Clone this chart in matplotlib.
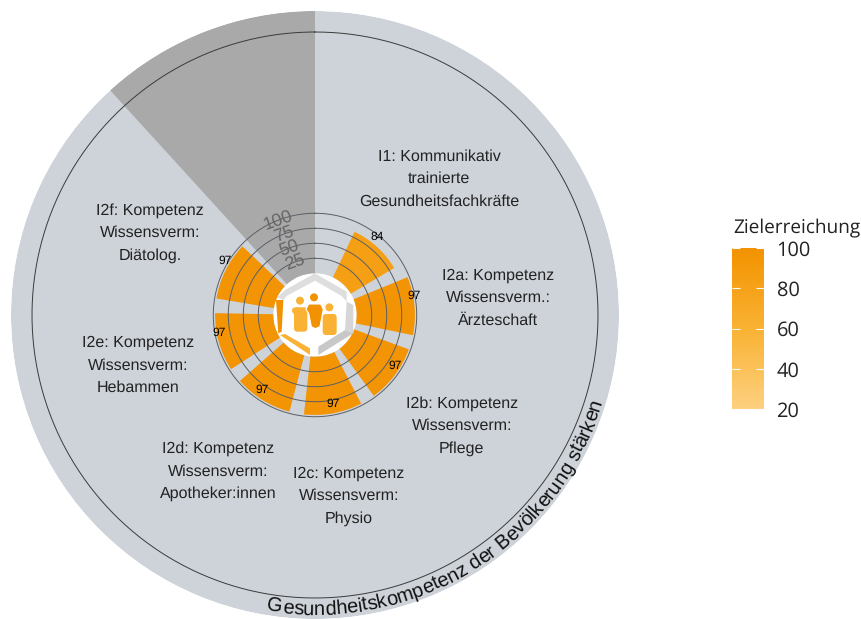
# -*- coding:utf-8 -*-
import numpy as np
from matplotlib import pyplot as plt
from matplotlib import cm, colors
from matplotlib.patches import Polygon, Circle, FancyBboxPatch

# Indikatoren
labels = ['I1: Kommunikativ\ntrainierte\nGesundheitsfachkräfte',
	'I2a: Kompetenz\nWissensverm.:\nÄrzteschaft',
	'I2b: Kompetenz\nWissensverm:\nPflege',
	'I2c: Kompetenz\nWissensverm:\nPhysio',
	'I2d: Kompetenz\nWissensverm:\nApotheker:innen',
	'I2e: Kompetenz\nWissensverm:\nHebammen',
	'I2f: Kompetenz\nWissensverm:\nDiätolog.']
values = [84, 97, 97, 97, 97, 97, 97]
r_ticks = [25, 50, 75, 100]
legend_ticks = [20, 40, 60, 80, 100]
legend_title = 'Zielerreichung'
ring_title = 'Gesundheitskompetenz der Bevölkerung stärken'

W, H = 861, 619
CX, CY, R = 315, 315, 304
R_MIN, R_MAX = -69.5, 437
N_SLOTS = 8.5
BG = '#CED3DA'
DARK = '#A9A9A9'

plt.rcParams['font.family'] = ['Liberation Sans', 'DejaVu Sans']
plt.rcParams['text.hinting'] = 'no_hinting'
plt.rcParams['text.hinting_factor'] = 1

fig = plt.figure(figsize=(W/100, H/100), dpi=100)
ax = fig.add_axes([(CX-R)/W, 1-(CY+R)/H, 2*R/W, 2*R/H], projection='polar')
ax.set_theta_zero_location('N')
ax.set_theta_direction(-1)
ax.set_ylim(R_MIN, R_MAX)
ax.axis('off')

cmap = colors.LinearSegmentedColormap.from_list('ziel', ['#FDD07F', '#F9B233', '#F39200'])
norm = colors.Normalize(20, 100)

def to_theta(x):
	return np.asarray(x)*2*np.pi/N_SLOTS

# Hintergrund und leeres Segment
ax.bar(0, R_MAX, width=2*np.pi, bottom=0, align='edge', color=BG, lw=0, zorder=1)
ax.bar(to_theta(7.5), R_MAX, width=to_theta(1), bottom=0, align='edge', color=DARK, lw=0, zorder=2)

# Balken
xs = np.arange(1, len(values)+1)
ax.bar(to_theta(xs), values, width=to_theta(0.8), bottom=0, color=cmap(norm(values)), lw=0, zorder=3)

# Ringe
tt = np.linspace(0, 2*np.pi, 400)
for r in r_ticks:
	ax.plot(tt, [r]*len(tt), color='#5A5F66', lw=0.7, zorder=6)
ax.plot(tt, [402]*len(tt), color='#3A3A3A', lw=0.7, zorder=6)

for r in r_ticks:
	ax.text(np.radians(-21), r, str(r), rotation=20, ha='center', va='center',
		fontsize=13, color='#666666', zorder=7)

for x, v in zip(xs, values):
	ax.annotate(str(v), (to_theta(x), v), xytext=(0, 7), textcoords='offset points',
		ha='center', va='center', fontsize=8.8, color='black', zorder=7)

for x, lab in zip(xs, labels):
	ax.text(to_theta(x), 237, lab, ha='center', va='center', fontsize=11.7, color='#222222',
		linespacing=1.65, zorder=5)

# Logo und alles andere in Pixelkoordinaten
ov = fig.add_axes([0, 0, 1, 1])
ov.set_xlim(0, W)
ov.set_ylim(H, 0)
ov.axis('off')
ov.patch.set_alpha(0)

def px(p):
	return [(190+a/3, 190+b/3) for a, b in p]

def pz(a, b):
	return (270+a/3, 270+b/3)

ov.add_patch(Circle((CX, CY), 41, color='white', lw=0, zorder=1))
ov.add_patch(Polygon(px([(262,322),(285,300),(375,250),(470,305),(470,335),(455,318),(375,272),(290,318),(280,330)]), color='#DEDEDE', lw=0))
ov.add_patch(Polygon(px([(470,335),(490,345),(490,430),(465,420)]), color='#D6D6D6', lw=0))
ov.add_patch(Polygon(px([(490,430),(385,495),(385,470),(465,420)]), color='#C8C8C8', lw=0))
ov.add_patch(Polygon(px([(258,330),(280,330),(275,425),(265,430)]), color='#F39200', lw=0))
ov.add_patch(Polygon(px([(270,435),(360,495),(360,475),(285,432)]), color='#F9B233', lw=0))

def body(x0, y0, x1, y1, col):
	a, b = pz(x0, y0)
	c, d = pz(x1, y1)
	ov.add_patch(FancyBboxPatch((a+2.5, b+2.5), c-a-5, d-b-5,
		boxstyle='round,pad=2.5,rounding_size=3.5', color=col, lw=0))

LIGHT, ORANGE = '#F9B233', '#F39200'
# linke Figur
ov.add_patch(Circle(pz(90, 92), 4, color=LIGHT, lw=0))
body(72, 112, 112, 185, LIGHT)
body(66, 112, 92, 132, LIGHT)
# rechte Figur
ov.add_patch(Circle(pz(178, 112), 4, color=LIGHT, lw=0))
body(158, 132, 200, 195, LIGHT)
# mittlere Figur
ov.add_patch(Circle(pz(132, 82), 4, color=ORANGE, lw=0))
ov.add_patch(Polygon([pz(*p) for p in [(116,102),(152,102),(160,118),(150,170),(136,176),(124,170),(116,130),(108,118)]],
	facecolor=ORANGE, edgecolor='white', lw=0.8, joinstyle='round'))

# Text auf dem Ring
fig.canvas.draw()
rend = fig.canvas.get_renderer()
fs = 14.6
def char_w(s):
	t = fig.text(0, 0, s, fontsize=fs)
	w = t.get_window_extent(rend).width
	t.remove()
	return w
# Leerzeichen am Ende zaehlen sonst nicht mit
pos = [char_w(ring_title[:i+1]+'.')-char_w('.') for i in range(len(ring_title))]
total = pos[-1]
r_txt = 300
mid = np.radians(148)
prev = 0
for ch, p in zip(ring_title, pos):
	c = (prev+p)/2 - total/2
	prev = p
	if ch == ' ':
		continue
	a = mid - c/r_txt
	x = CX + r_txt*np.sin(a)
	y = CY - r_txt*np.cos(a)
	rot = np.degrees(np.pi - a)
	ov.text(x, y, ch, fontsize=fs, color='#111111', rotation=rot, rotation_mode='anchor',
		ha='center', va='baseline')

# Legende
cax = fig.add_axes([732/W, 1-409/H, 32/W, 161/H])
cb = fig.colorbar(cm.ScalarMappable(norm=norm, cmap=cmap), cax=cax, ticks=legend_ticks)
cb.outline.set_visible(False)
cax.tick_params(direction='in', length=6, width=0.8, color='white', left=True, right=True,
	labelsize=14.5, labelcolor='#222222', pad=9)
for t in cax.get_yticklabels():
	t.set_family('Open Sans')
fig.text(733/W, 1-228/H, legend_title, fontsize=13.6, family='Open Sans', color='#222222', va='center')

fig.savefig('out.png', dpi=100)
